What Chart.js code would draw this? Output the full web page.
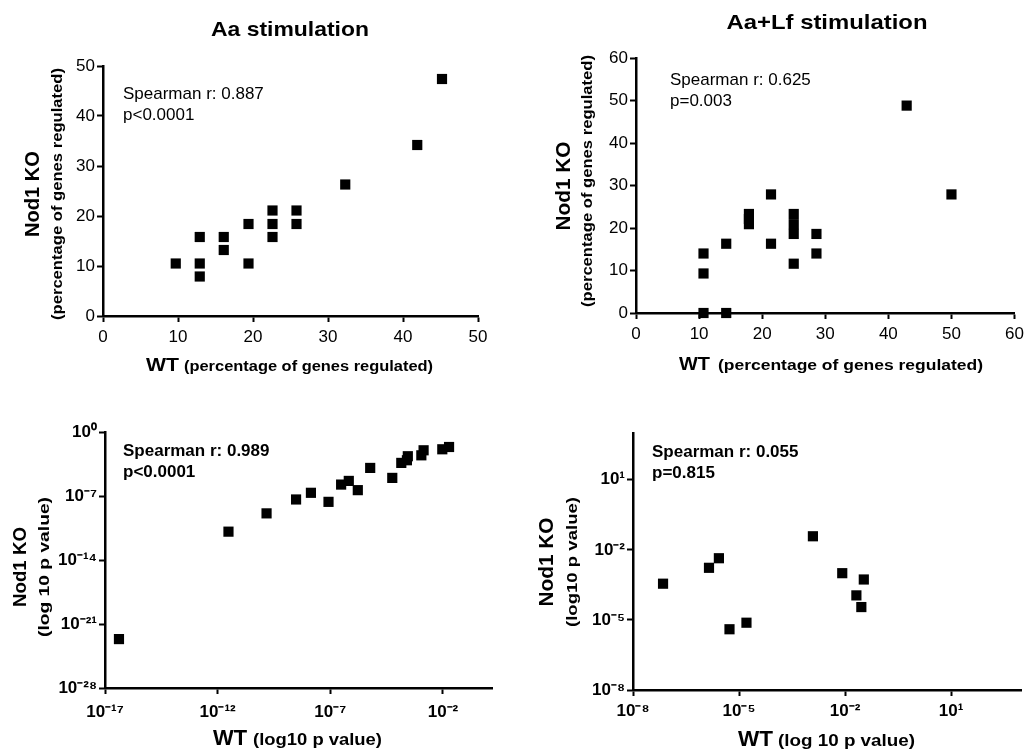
<!DOCTYPE html>
<html lang="en">
<head>
  <meta charset="UTF-8" />
  <title>Nod1 KO vs WT</title>
  <style>
    body {
      margin: 0;
      background: #fff;
      font-family: "Liberation Sans", Arial, Helvetica, sans-serif;
    }
    #wrap {
      position: relative;
      width: 1029px;
      height: 752px;
    }
    canvas {
      position: absolute;
    }
  </style>
</head>
<body>
  <div id="wrap">
    <canvas id="p1" width="515" height="380" style="left:0;top:0"></canvas>
    <canvas id="p2" width="514" height="380" style="left:515px;top:0"></canvas>
    <canvas id="p3" width="515" height="372" style="left:0;top:380px"></canvas>
    <canvas id="p4" width="514" height="372" style="left:515px;top:380px"></canvas>
  </div>

  <script src="https://cdn.jsdelivr.net/npm/chart.js"></script>
  <script>
    // Aa stimulation (percentage of genes regulated)
    const p1Wt = [9.7, 12.9, 12.9, 12.9, 16.1, 16.1, 19.4, 19.4, 22.6, 22.6, 22.6, 25.8, 25.8, 32.3, 41.9, 45.2];
    const p1Ko = [10.5, 15.8, 10.5, 7.9, 15.8, 13.2, 18.4, 10.5, 21.1, 18.4, 15.8, 21.1, 18.4, 26.3, 34.2, 47.4];

    // Aa+Lf stimulation (percentage of genes regulated)
    const p2Wt = [10.7, 10.7, 10.7, 14.3, 14.3, 17.9, 17.9, 17.9, 21.4, 21.4, 25.0, 25.0, 25.0, 25.0, 28.6, 28.6, 42.9, 50.0];
    const p2Ko = [0, 9.3, 14.0, 0, 16.3, 20.9, 22.1, 23.3, 27.9, 16.3, 18.6, 20.9, 23.3, 11.6, 18.6, 14.0, 48.8, 27.9];

    // Aa stimulation p values, as log10 exponents
    const p3WtExp = [-16.38, -11.52, -9.83, -8.52, -7.86, -7.08, -6.52, -6.18, -5.78, -5.23, -4.25, -3.85, -3.60, -3.56, -2.96, -2.86, -2.03, -1.73];
    const p3KoExp = [-22.65, -10.9, -8.9, -7.38, -6.65, -7.64, -5.75, -5.35, -6.36, -3.93, -5.02, -3.38, -3.09, -2.65, -2.55, -2.0, -1.89, -1.64];

    // Aa+Lf stimulation p values, as log10 exponents
    const p4WtExp = [-7.15, -5.85, -5.57, -5.27, -4.79, -2.91, -2.08, -1.68, -1.54, -1.47];
    const p4KoExp = [-3.45, -2.77, -2.36, -5.40, -5.12, -1.42, -3.0, -3.95, -4.45, -3.27];

    // tick labels (exponents of 10 for the log panels)
    const p3XTicks = [-17, -12, -7, -2];
    const p3YTicks = [0, -7, -14, -21, -28];
    const p4XTicks = [-8, -5, -2, 1];
    const p4YTicks = [-8, -5, -2, 1];

    const FONT = '"Liberation Sans", Arial, Helvetica, sans-serif';
    const SUP = { '0': '⁰', '1': '¹', '2': '²', '3': '³', '4': '⁴', '5': '⁵', '6': '⁶', '7': '⁷', '8': '⁸', '9': '⁹', '-': '⁻' };

    function supLabel(value) {
      const e = String(Math.round(Math.log10(value)));
      return '10' + e.split('').map(c => SUP[c]).join('');
    }

    function toPoints(xs, ys) {
      return xs.map((x, i) => ({ x: x, y: ys[i] }));
    }

    function toLogPoints(xs, ys) {
      return xs.map((x, i) => ({ x: Math.pow(10, x), y: Math.pow(10, ys[i]) }));
    }

    // draw text, stretched horizontally so it spans the given width
    function fitText(ctx, text, x, y, font, width, align) {
      ctx.save();
      ctx.font = font;
      ctx.textAlign = align || 'left';
      ctx.translate(x, y);
      if (width) {
        ctx.scale(width / ctx.measureText(text).width, 1);
      }
      ctx.fillText(text, 0, 0);
      ctx.restore();
    }

    const textPlugin = {
      id: 'panelText',
      afterDraw(chart, args, o) {
        const ctx = chart.ctx;
        ctx.save();
        ctx.fillStyle = '#000';
        ctx.textBaseline = 'alphabetic';
        if (o.title) {
          fitText(ctx, o.title[0], o.title[1], o.title[2], o.title[3], o.title[4], 'center');
        }
        o.note.forEach((line, i) => {
          fitText(ctx, line, o.noteX, o.noteY + i * 21, o.noteFont);
        });
        // x axis title: big part + small part
        fitText(ctx, 'WT', o.xTitle[0], o.xTitle[1], o.xTitle[2], o.xTitle[3]);
        fitText(ctx, o.xSub[0], o.xSub[1], o.xTitle[1], o.xSub[2], o.xSub[3]);
        // y axis title, rotated
        ctx.save();
        ctx.translate(o.yTitle[0], o.yTitle[1]);
        ctx.rotate(-Math.PI / 2);
        ctx.textBaseline = 'middle';
        fitText(ctx, 'Nod1 KO', 0, 0, o.yTitle[2], o.yTitle[3], 'center');
        ctx.restore();
        ctx.save();
        ctx.translate(o.ySub[0], o.ySub[1]);
        ctx.rotate(-Math.PI / 2);
        ctx.textBaseline = 'middle';
        fitText(ctx, o.ySub[2], 0, 0, o.ySub[3], o.ySub[4], 'center');
        ctx.restore();
        ctx.restore();
      }
    };

    function axis(opts) {
      const a = {
        type: opts.type,
        min: opts.min,
        max: opts.max,
        border: { color: '#000', width: 2.5 },
        grid: {
          drawOnChartArea: false,
          drawTicks: true,
          tickLength: 6,
          tickColor: '#000',
          tickWidth: 2
        },
        ticks: {
          color: '#000',
          font: { family: FONT, size: opts.fontSize, weight: opts.bold ? 'bold' : 'normal' },
          padding: opts.padding,
          autoSkip: false,
          maxRotation: 0
        }
      };
      if (opts.type === 'linear') {
        a.ticks.stepSize = 10;
      } else {
        a.afterBuildTicks = scale => {
          scale.ticks = opts.tickExp.map(e => ({ value: Math.pow(10, e) }));
        };
        a.ticks.callback = value => supLabel(value);
      }
      return a;
    }

    function makeChart(id, data, x, y, layout, text) {
      return new Chart(document.getElementById(id), {
        type: 'scatter',
        data: {
          datasets: [{
            data: data,
            pointStyle: 'rect',
            pointRadius: 7.2,
            pointHoverRadius: 7.2,
            backgroundColor: '#000',
            borderColor: '#000',
            borderWidth: 0,
            clip: false
          }]
        },
        options: {
          responsive: false,
          animation: false,
          layout: { padding: { top: layout.top, right: layout.right, left: 0, bottom: 0 } },
          plugins: {
            legend: { display: false },
            tooltip: { enabled: false },
            panelText: text
          },
          scales: {
            x: Object.assign(axis(x), { afterFit: s => { s.height = layout.bottom; } }),
            y: Object.assign(axis(y), { afterFit: s => { s.width = layout.left; } })
          }
        },
        plugins: [textPlugin]
      });
    }

    const bold = size => 'bold ' + size + 'px ' + FONT;

    makeChart('p1', toPoints(p1Wt, p1Ko),
      { type: 'linear', min: 0, max: 50, fontSize: 17, padding: 5 },
      { type: 'linear', min: 0, max: 50, fontSize: 17, padding: 2 },
      { left: 103, right: 37, top: 66, bottom: 64 },
      {
        title: ['Aa stimulation', 290, 36, bold(21), 158],
        note: ['Spearman r: 0.887', 'p<0.0001'], noteX: 123, noteY: 99, noteFont: '17px ' + FONT,
        xTitle: [146, 371, bold(19), 33],
        xSub: ['(percentage of genes regulated)', 184, bold(14), 249],
        yTitle: [33, 194, bold(20), 86],
        ySub: [58, 194, '(percentage of genes regulated)', bold(14), 252]
      });

    makeChart('p2', toPoints(p2Wt, p2Ko),
      { type: 'linear', min: 0, max: 60, fontSize: 17, padding: 5 },
      { type: 'linear', min: 0, max: 60, fontSize: 17, padding: 2 },
      { left: 121, right: 11, top: 58, bottom: 67 },
      {
        title: ['Aa+Lf stimulation', 312, 29, bold(21), 201],
        note: ['Spearman r: 0.625', 'p=0.003'], noteX: 155, noteY: 85, noteFont: '17px ' + FONT,
        xTitle: [164, 370, bold(19), 31],
        xSub: ['(percentage of genes regulated)', 203, bold(14), 265],
        yTitle: [49, 186, bold(20), 89],
        ySub: [73, 181, '(percentage of genes regulated)', bold(14), 252]
      });

    makeChart('p3', toLogPoints(p3WtExp, p3KoExp),
      { type: 'logarithmic', min: 1e-17, max: 1.5, fontSize: 17, bold: true, padding: 8, tickExp: p3XTicks },
      { type: 'logarithmic', min: 1e-28, max: 1, fontSize: 17, bold: true, padding: 2, tickExp: p3YTicks },
      { left: 105, right: 23, top: 52, bottom: 64 },
      {
        title: null,
        note: ['Spearman r: 0.989', 'p<0.0001'], noteX: 123, noteY: 76, noteFont: bold(17),
        xTitle: [213, 365, bold(22), 34],
        xSub: ['(log10 p value)', 253, bold(17), 129],
        yTitle: [21, 187, bold(19), 80],
        ySub: [45, 187, '(log 10 p value)', bold(14), 140]
      });

    makeChart('p4', toLogPoints(p4WtExp, p4KoExp),
      { type: 'logarithmic', min: 1e-8, max: 1e3, fontSize: 17, bold: true, padding: 5, tickExp: p4XTicks },
      { type: 'logarithmic', min: 1e-8, max: 1e3, fontSize: 17, bold: true, padding: 2, tickExp: p4YTicks },
      { left: 118, right: 7, top: 53, bottom: 62 },
      {
        title: null,
        note: ['Spearman r: 0.055', 'p=0.815'], noteX: 137, noteY: 77, noteFont: bold(17),
        xTitle: [223, 366, bold(22), 35],
        xSub: ['(log 10 p value)', 263, bold(17), 137],
        yTitle: [32, 182, bold(21), 89],
        ySub: [58, 182, '(log10 p value)', bold(14), 130]
      });
  </script>
</body>
</html>
